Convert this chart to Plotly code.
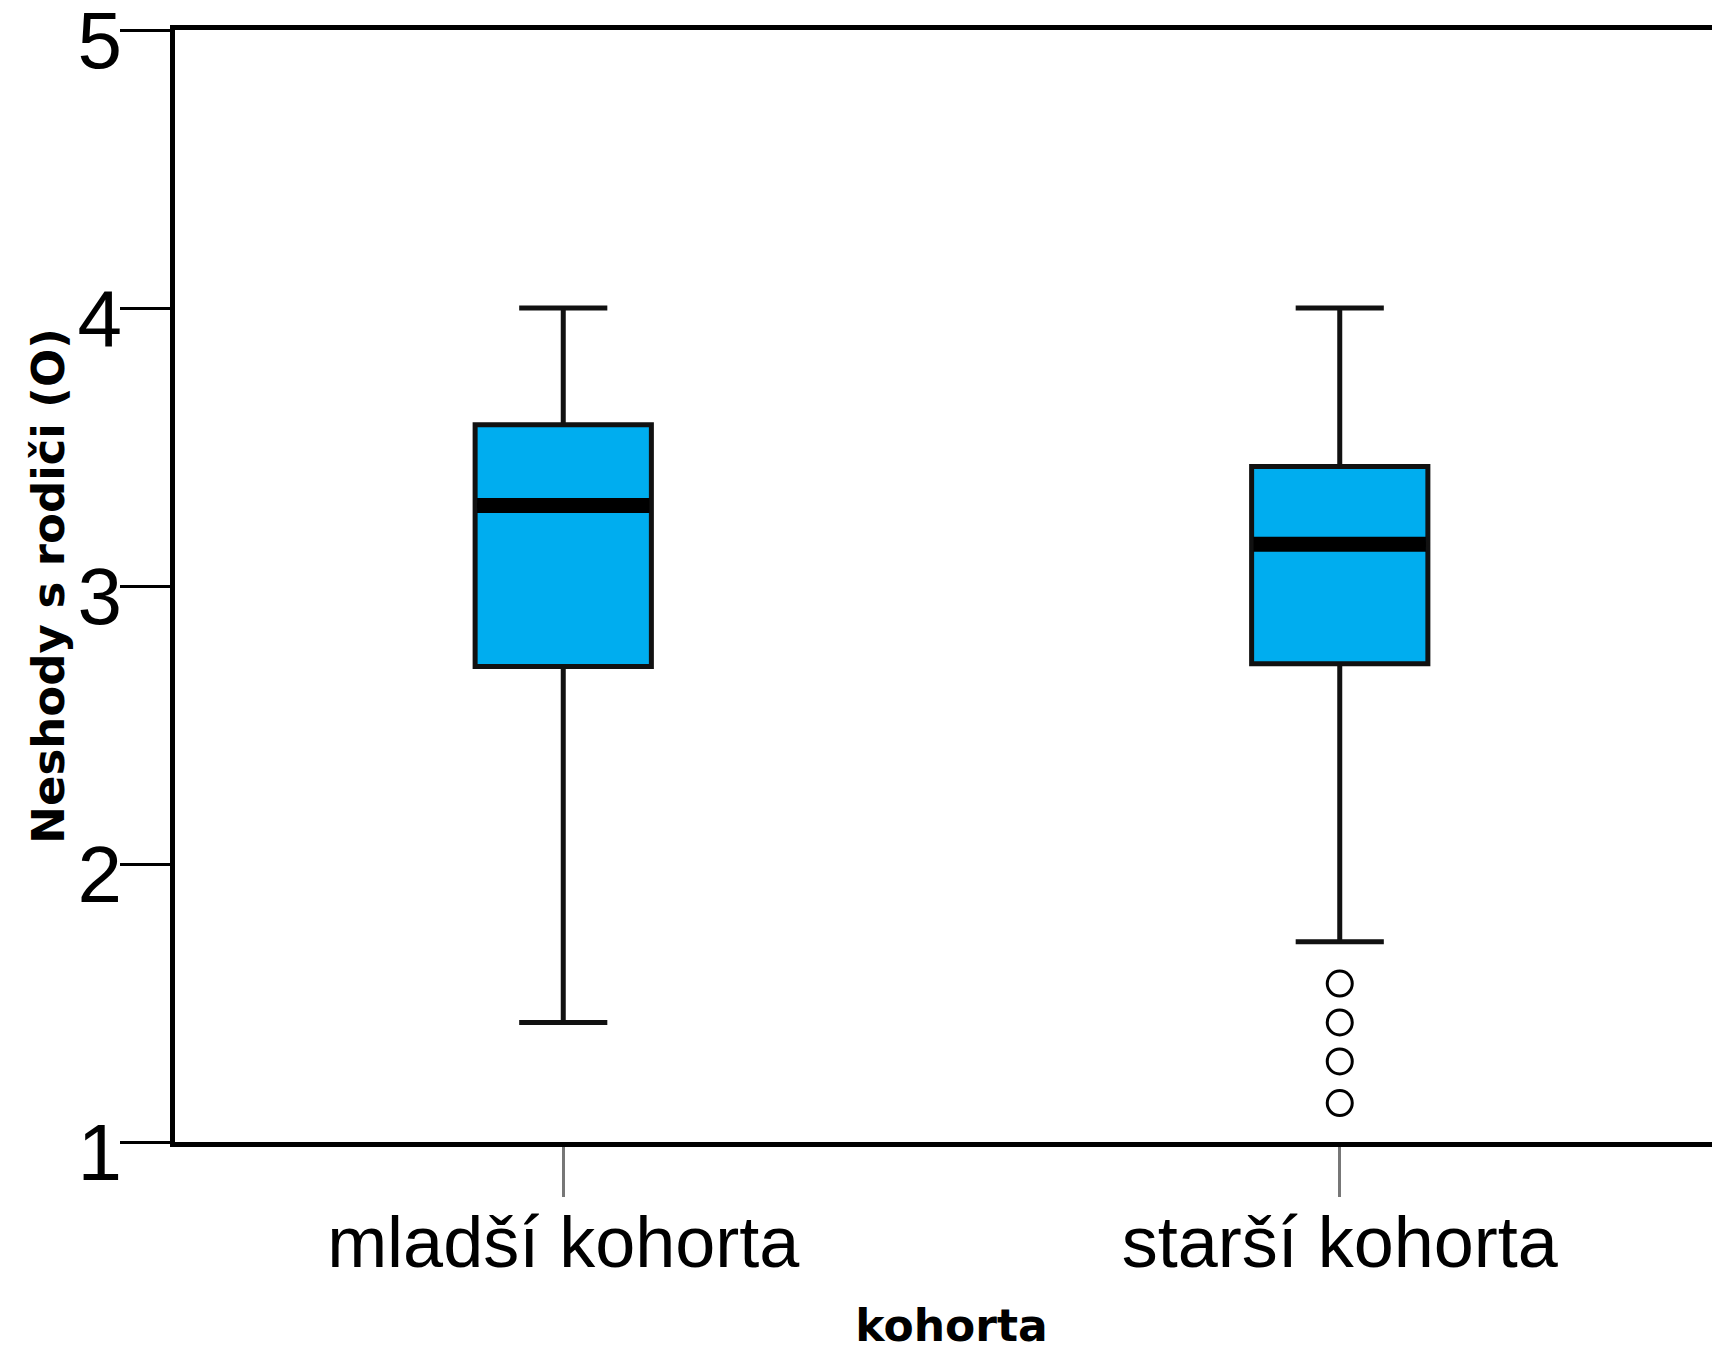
import plotly.graph_objects as go

# kohorty a statistiky boxplotu
kohorty = ["mladší kohorta", "starší kohorta"]
q1 = [2.71, 2.72]
median = [3.29, 3.15]
q3 = [3.58, 3.43]
dolni_fous = [1.43, 1.72]
horni_fous = [4.0, 4.0]

# odlehlé hodnoty starší kohorty
odlehle_x = ["starší kohorta"] * 4
odlehle_y = [1.57, 1.43, 1.29, 1.14]

y_ticks = [1, 2, 3, 4, 5]

fig = go.Figure()

# samotné boxy
fig.add_trace(
    go.Box(
        x=kohorty,
        q1=q1,
        median=median,
        q3=q3,
        lowerfence=dolni_fous,
        upperfence=horni_fous,
        fillcolor="#00ADEF",
        line=dict(color="#111111", width=5),
        whiskerwidth=0.5,
        width=0.227,
        boxpoints=False,
        showlegend=False,
    )
)

# tlustá čára mediánu (box s nulovou výškou)
fig.add_trace(
    go.Box(
        x=kohorty,
        q1=median,
        median=median,
        q3=median,
        lowerfence=median,
        upperfence=median,
        fillcolor="rgba(0,0,0,0)",
        line=dict(color="black", width=15),
        whiskerwidth=0,
        width=0.222,
        boxpoints=False,
        showlegend=False,
    )
)

# odlehlé body
fig.add_trace(
    go.Scatter(
        x=odlehle_x,
        y=odlehle_y,
        mode="markers",
        marker=dict(symbol="circle-open", size=25, color="black", line=dict(width=3)),
        showlegend=False,
    )
)

fig.update_xaxes(
    type="category",
    range=[-0.5, 1.5],
    automargin=False,
    showline=True,
    linecolor="black",
    linewidth=5,
    mirror=True,
    ticks="outside",
    ticklen=50,
    tickwidth=3,
    tickcolor="#777777",
    ticklabelstandoff=-16,
    tickfont=dict(family="Liberation Sans, Arial", size=72, color="black"),
    title=dict(
        text="<b>kohorta</b>",
        font=dict(family="DejaVu Sans, Verdana", size=44, color="black"),
        standoff=30,
    ),
    showgrid=False,
    zeroline=False,
)

fig.update_yaxes(
    range=[1, 5],
    tickvals=y_ticks,
    automargin=False,
    ticklabeloverflow="allow",
    showline=True,
    linecolor="black",
    linewidth=5,
    ticks="outside",
    ticklen=50,
    tickwidth=3,
    tickcolor="black",
    ticklabelstandoff=-18,
    ticklabelshift=10,
    tickfont=dict(family="Liberation Sans, Arial", size=80, color="black"),
    title=dict(
        text="<b>Neshody s rodiči (O)</b>",
        font=dict(family="DejaVu Sans, Verdana", size=45, color="black"),
        standoff=0,
    ),
    showgrid=False,
    zeroline=False,
)

fig.update_layout(
    width=1720,
    height=1354,
    margin=dict(l=167, r=0, t=22, b=220),
    plot_bgcolor="white",
    paper_bgcolor="white",
    boxmode="overlay",
)

fig.write_html("out.html")
